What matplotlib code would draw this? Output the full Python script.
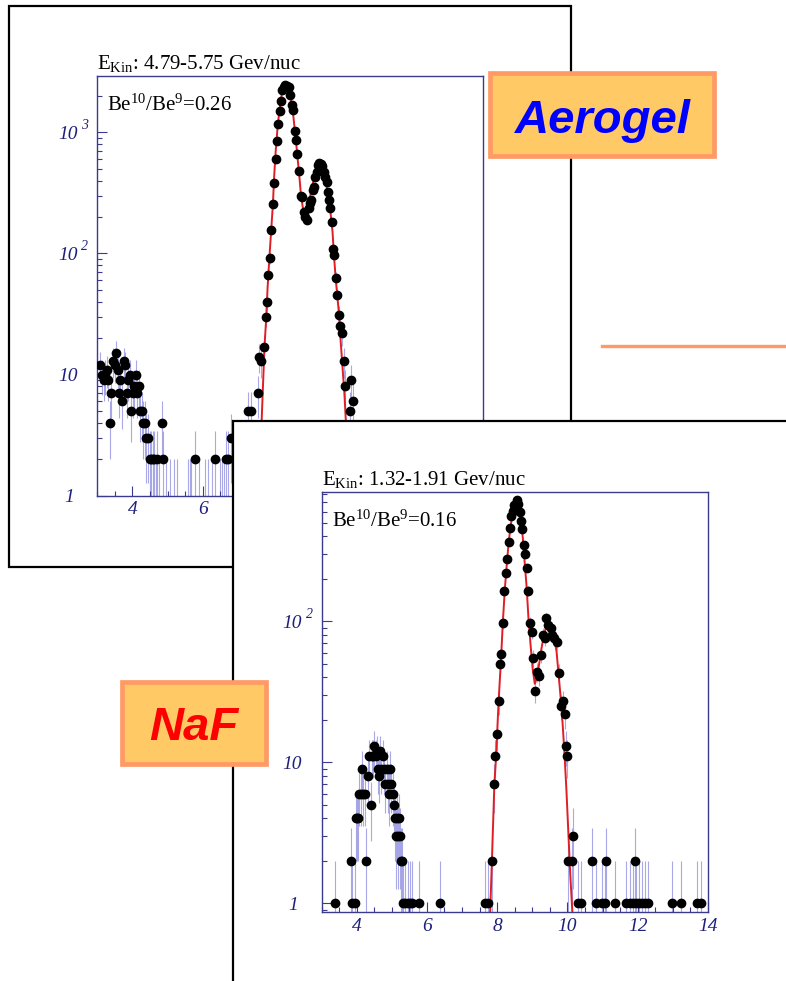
import numpy as np
import matplotlib.pyplot as plt
from matplotlib.patches import Rectangle
from matplotlib.lines import Line2D
from matplotlib.ticker import LogLocator, MultipleLocator, NullFormatter, FixedLocator
from matplotlib.transforms import blended_transform_factory, offset_copy

plt.rcParams['font.family'] = ['Liberation Serif', 'DejaVu Serif']
plt.rcParams['mathtext.fontset'] = 'custom'
plt.rcParams['mathtext.rm'] = 'Liberation Serif'
plt.rcParams['mathtext.it'] = 'Liberation Serif:italic'

W, H = 786, 981

# ---- Aerogel: 4.79-5.75 GeV/nuc, Be10/Be9 = 0.26 ----
aero_energy = '4.79-5.75'
aero_ratio = '0.26'
aero_mass = [3.09, 3.13, 3.18, 3.22, 3.27, 3.31, 3.36, 3.40, 3.45, 3.49, 3.54, 3.58,
             3.62, 3.66, 3.71, 3.75, 3.79, 3.84, 3.88, 3.92, 3.97, 4.01, 4.05, 4.10,
             4.14, 4.18, 4.23, 4.27, 4.31, 4.36, 4.40, 4.44, 4.49, 4.53, 4.58, 4.62,
             4.66, 4.71, 4.75, 4.83, 4.88, 4.96, 5.06, 5.18, 5.27, 5.58, 5.63, 5.68,
             5.78, 5.90, 6.06, 6.16, 6.26, 6.35, 6.49, 6.54, 6.60, 6.67, 6.73, 6.81,
             7.30, 7.38, 7.57, 7.61, 7.65, 7.75, 7.80, 7.83, 7.87, 7.91, 7.95, 8.00,
             8.04, 8.08, 8.12, 8.16, 8.19, 8.23, 8.27, 8.32, 8.36, 8.40, 8.45, 8.49,
             8.54, 8.58, 8.62, 8.66, 8.70, 8.74, 8.79, 8.83, 8.88, 8.93, 8.97, 9.02,
             9.06, 9.10, 9.14, 9.17, 9.21, 9.25, 9.28, 9.32, 9.36, 9.41, 9.45, 9.49,
             9.53, 9.56, 9.60, 9.64, 9.68, 9.71, 9.75, 9.79, 9.84, 9.88, 9.92, 9.96,
             10.02, 10.06, 10.20, 10.24, 10.29]
aero_counts = [12, 10, 9, 10, 11, 9, 4, 7, 13, 12, 15, 11,
               7, 9, 6, 13, 12, 7, 9, 10, 5, 7, 8, 10,
               7, 8, 5, 5, 4, 4, 3, 3, 2, 2, 2, 2,
               1, 2, 1, 4, 2, 1, 1, 1, 1, 1, 1, 1,
               2, 1, 1, 1, 1, 2, 1, 1, 1, 2, 2, 3,
               5, 5, 7, 14, 13, 17, 30, 40, 66, 92, 156, 256,
               380, 600, 849, 1167, 1510, 1817, 2240, 2385, 2460, 2420, 2385, 2036,
               1684, 1531, 1033, 866, 664, 483, 297, 290, 221, 200, 189, 236,
               260, 277, 334, 356, 431, 473, 538, 556, 545, 530, 473, 431,
               392, 324, 277, 236, 183, 109, 97, 63, 45, 31, 25, 22,
               13, 8, 5, 9, 6]
aero_fit_mass = [7.50, 7.60, 7.68, 7.72, 7.76, 7.81, 7.85, 7.90, 7.95, 8.00, 8.04, 8.08,
                 8.14, 8.19, 8.25, 8.30, 8.35, 8.40, 8.45, 8.51, 8.56, 8.61, 8.66, 8.71,
                 8.76, 8.80, 8.85, 8.92, 8.99, 9.06, 9.13, 9.20, 9.28, 9.34, 9.41, 9.47,
                 9.54, 9.63, 9.70, 9.74, 9.79, 9.87, 9.92, 9.98, 10.04, 10.08, 10.15, 10.22]
aero_fit_counts = [1.0, 2.2, 4.1, 8.2, 16.5, 29, 52, 91, 151, 251, 445, 693,
                   1151, 1530, 2036, 2250, 2312, 2300, 2180, 1913, 1582, 1151, 838, 591,
                   418, 304, 243, 201, 236, 294, 368, 459, 531, 556, 521, 445,
                   345, 236, 151, 97, 62, 35, 21, 12, 6.8, 4.1, 2.0, 1.0]

# ---- NaF: 1.32-1.91 GeV/nuc, Be10/Be9 = 0.16 ----
naf_energy = '1.32-1.91'
naf_ratio = '0.16'
naf_mass = [3.38, 3.85, 3.88, 3.94, 3.97, 4.01, 4.05, 4.07, 4.11, 4.16, 4.19, 4.23,
            4.28, 4.32, 4.35, 4.40, 4.43, 4.47, 4.49, 4.54, 4.58, 4.61, 4.64, 4.67,
            4.70, 4.74, 4.78, 4.82, 4.85, 4.89, 4.92, 4.95, 4.99, 5.03, 5.06, 5.09,
            5.11, 5.14, 5.17, 5.20, 5.23, 5.25, 5.29, 5.33, 5.39, 5.45, 5.53, 5.58,
            5.77, 6.38,
            7.66, 7.75, 7.85, 7.90, 7.95, 7.99, 8.04, 8.09, 8.11, 8.16, 8.20, 8.25,
            8.29, 8.33, 8.37, 8.40, 8.45, 8.49, 8.56, 8.60, 8.65, 8.68, 8.72, 8.75,
            8.79, 8.84, 8.89, 8.93, 8.98, 9.01, 9.07, 9.12, 9.20, 9.26, 9.29, 9.36,
            9.40, 9.46, 9.53, 9.57, 9.62, 9.70, 9.76, 9.83, 9.87, 9.92, 9.95, 9.99,
            10.02, 10.14, 10.16, 10.30, 10.38, 10.71, 10.80, 10.99, 11.06, 11.09, 11.34, 11.67,
            11.77, 11.86, 11.91, 11.96, 12.03, 12.13, 12.22, 12.29, 12.98, 13.23, 13.69, 13.80]
naf_counts = [1, 2, 1, 1, 4, 4, 4, 6, 6, 9, 6, 6,
              2, 8, 11, 5, 11, 11, 13, 11, 12, 9, 8, 12,
              9, 11, 9, 7, 9, 7, 6, 9, 7, 6, 5, 4,
              3, 4, 3, 4, 3, 2, 2, 1, 1, 1, 1, 1,
              1, 1,
              1, 1, 2, 7, 11, 16, 27, 50, 59, 98, 165, 219,
              277, 365, 456, 559, 607, 670, 723, 677, 591, 515, 449, 347,
              298, 239, 165, 97, 84, 55, 32, 44, 41, 58, 80, 76,
              105, 94, 89, 80, 76, 71, 43, 25, 27, 22, 13, 11,
              2, 2, 3, 1, 1, 2, 1, 1, 1, 2, 1, 1,
              1, 1, 2, 1, 1, 1, 1, 1, 1, 1, 1, 1]
naf_fit_mass = [7.80, 7.85, 7.92, 7.97, 8.04, 8.11, 8.16, 8.22, 8.28, 8.33, 8.39, 8.45,
                8.51, 8.56, 8.61, 8.67, 8.73, 8.78, 8.84, 8.89, 8.95, 9.01, 9.07, 9.12,
                9.19, 9.26, 9.33, 9.40, 9.48, 9.55, 9.61, 9.69, 9.74, 9.80, 9.86, 9.92,
                9.97, 10.03, 10.08, 10.14]
naf_fit_counts = [0.86, 2, 7, 11, 27, 54, 98, 172, 266, 369, 488, 590,
                  660, 677, 640, 541, 390, 266, 172, 105, 68, 46, 36, 39,
                  49, 64, 80, 92, 97, 92, 80, 61, 44, 30, 19.2, 11,
                  6.4, 3, 1.6, 0.86]

x_ticks = [4, 6, 8, 10, 12, 14]

NAVY = '#3a3a8e'
LABEL = '#20207a'
ERR = '#8c8ce0'
FIT = '#e01e24'


def fig_rect(l, t, r, b):
    return [l / W, 1 - b / H, (r - l) / W, (b - t) / H]


def panel(fig, rect, mass, counts, fit_mass, fit_counts, ylim, yexp, xlabels, energy, ratio, z):
    ax = fig.add_axes(fig_rect(*rect), zorder=z)
    ax.set_yscale('log')
    ax.set_xlim(3, 14)
    ax.set_ylim(*ylim)

    x = np.asarray(mass)
    n = np.asarray(counts, dtype=float)
    err = np.sqrt(n)
    ax.vlines(x, np.clip(n - err, 0.05, None), n + err, colors=ERR, lw=0.8, alpha=0.75, zorder=1)
    ax.plot(fit_mass, fit_counts, '-', color=FIT, lw=1.4, zorder=2)
    show = n > ylim[0]   # bins sitting on the lower edge get no marker
    ax.plot(x[show], n[show], 'o', color='black', ms=6, mec='black', zorder=3)

    for s in ax.spines.values():
        s.set_color(NAVY)
        s.set_linewidth(1.0)
    ax.xaxis.set_major_locator(FixedLocator(x_ticks))
    ax.xaxis.set_minor_locator(MultipleLocator(0.5))
    ax.yaxis.set_major_locator(LogLocator(10, numticks=20))
    ax.yaxis.set_minor_locator(LogLocator(10, subs=np.arange(2, 10), numticks=20))
    ax.yaxis.set_major_formatter(NullFormatter())
    ax.yaxis.set_minor_formatter(NullFormatter())
    ax.set_xticklabels(xlabels, fontstyle='italic', fontsize=14)
    ax.tick_params(which='both', direction='in', color=NAVY, labelcolor=LABEL,
                   top=False, right=False, width=0.8)
    ax.tick_params(which='major', length=7)
    ax.tick_params(which='minor', length=3.5)
    ax.tick_params(axis='x', pad=4)

    # y labels in the "10 ^k" style
    base = blended_transform_factory(ax.transAxes, ax.transData)
    for k in yexp:
        y = 10.0 ** k
        txt = '1' if k == 0 else '10'
        dx = -23 if k == 0 else -20
        ax.text(0, y, txt, transform=offset_copy(base, fig=fig, x=dx, y=-2, units='dots'),
                ha='right', va='center', fontstyle='italic', fontsize=14, color=LABEL)
        if k >= 2:
            ax.text(0, y, str(k), transform=offset_copy(base, fig=fig, x=-16, y=7, units='dots'),
                    ha='left', va='center', fontstyle='italic', fontsize=10, color=LABEL)

    ax.text(0.0, 1.016, r'E$_{\mathrm{Kin}}$: ' + energy + ' Gev/nuc', transform=ax.transAxes,
            ha='left', va='baseline', fontsize=15, color='black')
    ax.text(0.026, 0.916, r'Be$^{\mathrm{10}}$/Be$^{\mathrm{9}}$=' + ratio, transform=ax.transAxes,
            ha='left', va='baseline', fontsize=15, color='black')
    return ax


def label_box(fig, l, t, r, b, text, color, bx, by, z):
    bw = 4.7
    box = Rectangle(((l + bw / 2) / W, 1 - (b - bw / 2) / H), (r - l - bw) / W, (b - t - bw) / H,
                    transform=fig.transFigure, facecolor='#ffc966', edgecolor='#ff9966',
                    linewidth=bw * 0.72, zorder=z)
    fig.add_artist(box)
    fig.text(bx / W, 1 - by / H, text, ha='center', va='baseline', family='Liberation Sans',
             weight='bold', style='italic', fontsize=34, color=color, zorder=z + 0.1)


fig = plt.figure(figsize=(W / 100, H / 100), dpi=100)
fig.patch.set_facecolor('white')

# back panel (Aerogel); its lower right is covered by the NaF sheet
fig.add_artist(Rectangle((9 / W, 1 - 567 / H), 562 / W, 561 / H, transform=fig.transFigure,
                         facecolor='white', edgecolor='black', linewidth=1.6, zorder=0.5))
panel(fig, (97.3, 75.8, 483.5, 495.7), aero_mass, aero_counts, aero_fit_mass, aero_fit_counts,
      (1.0, 2930), [0, 1, 2, 3], ['4', '6', '', '', '', ''], aero_energy, aero_ratio, 1)
label_box(fig, 488, 71, 716.7, 158.7, 'Aerogel', '#0000ff', 603, 132.7, 2)
fig.add_artist(Line2D([602 / W, 1.0], [1 - 345.7 / H] * 2, transform=fig.transFigure,
                      color='#ff9966', linewidth=2.4, zorder=2))

# front panel (NaF)
fig.add_artist(Rectangle((233 / W, -0.05), 0.8, 1 - 421 / H + 0.05, transform=fig.transFigure,
                         facecolor='white', edgecolor='black', linewidth=1.6, zorder=3))
panel(fig, (321.5, 491.7, 708, 912.3), naf_mass, naf_counts, naf_fit_mass, naf_fit_counts,
      (0.863, 830), [0, 1, 2], [str(t) for t in x_ticks], naf_energy, naf_ratio, 4)
label_box(fig, 120, 679.3, 268.7, 766, 'NaF', '#ff0000', 193.5, 740, 5)

fig.savefig('out.png', dpi=100, facecolor='white')
